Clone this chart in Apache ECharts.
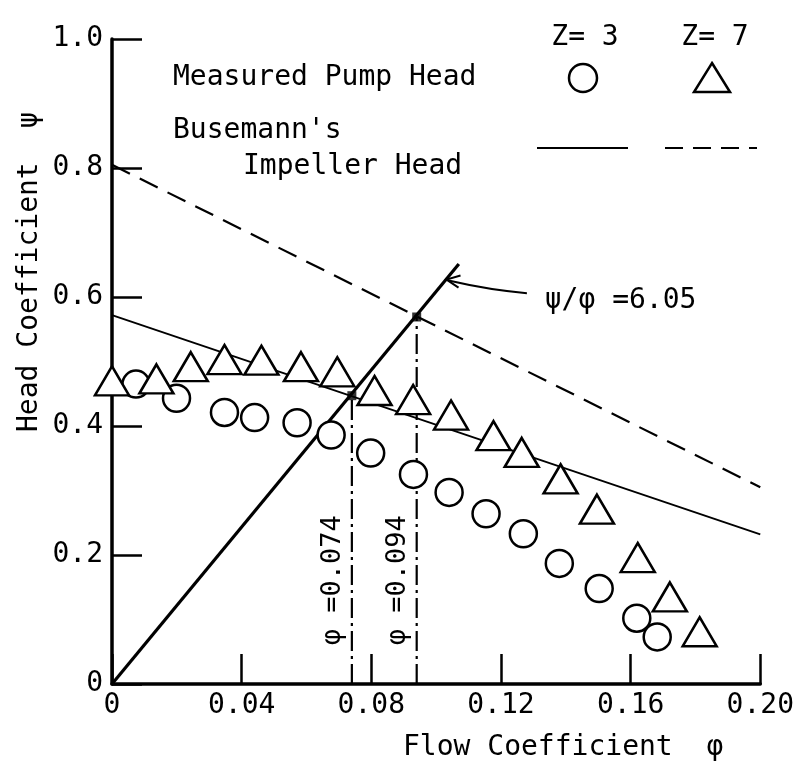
<!DOCTYPE html>
<html><head><meta charset="utf-8">
<script src="https://cdn.jsdelivr.net/npm/echarts@6/dist/echarts.min.js"></script>
<style>html,body{margin:0;padding:0;background:#fff}#c{width:797px;height:776px}</style>
</head><body><div id="c"></div>
<script>
const FONT = '"DejaVu Sans Mono", "Liberation Mono", monospace';

// Measured pump head, Z = 3 (circles)
const z3Flow = [0.0074, 0.0199, 0.0347, 0.0440, 0.0571, 0.0676, 0.0798, 0.0930, 0.1040, 0.1154, 0.1269, 0.1380, 0.1503, 0.1619, 0.1682];
const z3Head = [0.465, 0.443, 0.421, 0.413, 0.405, 0.386, 0.358, 0.325, 0.297, 0.264, 0.233, 0.187, 0.148, 0.102, 0.073];
// Measured pump head, Z = 7 (triangles)
const z7Flow = [0.0000, 0.0137, 0.0243, 0.0347, 0.0461, 0.0583, 0.0695, 0.0810, 0.0929, 0.1046, 0.1177, 0.1264, 0.1384, 0.1496, 0.1622, 0.1721, 0.1813];
const z7Head = [0.470, 0.473, 0.492, 0.503, 0.502, 0.492, 0.484, 0.455, 0.441, 0.417, 0.385, 0.359, 0.318, 0.271, 0.196, 0.135, 0.081];
// Busemann's impeller head
const buseZ3Flow = [0, 0.2];
const buseZ3Head = [0.572, 0.232];
const buseZ7Flow = [0, 0.2];
const buseZ7Head = [0.805, 0.305];
// psi/phi = 6.05 line
const ratioFlow = [0, 0.107];
const ratioHead = [0, 0.651];
// operating points
const opFlow = [0.074, 0.094];
const opHead = [0.447, 0.569];
const opLabels = ['\u03c6 =0.074', '\u03c6 =0.094'];

const zip = (a, b) => a.map((v, i) => [v, b[i]]);

const option = {
  animation: false,
  backgroundColor: '#fff',
  grid: { left: 112, right: 27, top: 39, bottom: 92 },
  xAxis: {
    type: 'value', min: 0, max: 0.2, interval: 0.04,
    axisLine: { lineStyle: { color: '#000', width: 3.5 } },
    axisTick: { inside: true, length: 30, lineStyle: { color: '#000', width: 2.5 } },
    axisLabel: { color: '#000', fontFamily: FONT, fontSize: 28, margin: 8,
      formatter: v => v === 0 ? '0' : v.toFixed(2) },
    splitLine: { show: false }
  },
  yAxis: {
    type: 'value', min: 0, max: 1, interval: 0.2,
    axisLine: { lineStyle: { color: '#000', width: 3.5 } },
    axisTick: { inside: true, length: 30, lineStyle: { color: '#000', width: 2.5 } },
    axisLabel: { color: '#000', fontFamily: FONT, fontSize: 28, margin: 9,
      formatter: v => v === 0 ? '0' : v.toFixed(1) },
    splitLine: { show: false }
  },
  series: [
    { type: 'line', data: zip(buseZ3Flow, buseZ3Head), symbol: 'none', z: 2,
      lineStyle: { color: '#000', width: 1.8 } },
    { type: 'line', data: zip(buseZ7Flow, buseZ7Head), symbol: 'none', z: 2,
      lineStyle: { color: '#000', width: 2.2, type: [20, 11] } },
    { type: 'line', data: zip(ratioFlow, ratioHead), symbol: 'none', z: 2,
      lineStyle: { color: '#000', width: 3.2 } },
    { type: 'line', data: [[opFlow[0], 0], [opFlow[0], opHead[0]]], symbol: 'none', z: 2,
      lineStyle: { color: '#000', width: 2.2, type: [20, 5, 3, 5] } },
    { type: 'line', data: [[opFlow[1], 0], [opFlow[1], opHead[1]]], symbol: 'none', z: 2,
      lineStyle: { color: '#000', width: 2.2, type: [20, 5, 3, 5] } },
    { type: 'scatter', data: zip(z3Flow, z3Head), symbol: 'circle', symbolSize: 27, z: 3,
      itemStyle: { color: '#fff', borderColor: '#000', borderWidth: 2.5, opacity: 1 } },
    { type: 'scatter', data: zip(z7Flow, z7Head), symbol: 'triangle', symbolSize: [34, 29], z: 4,
      itemStyle: { color: '#fff', borderColor: '#000', borderWidth: 2.5, opacity: 1 } },
    { type: 'scatter', data: zip(opFlow, opHead), symbol: 'rect', symbolSize: 9, z: 5,
      itemStyle: { color: '#000' } }
  ]
};

const chart = echarts.init(document.getElementById('c'));
chart.setOption(option);
const P = (x, y) => chart.convertToPixel({ gridIndex: 0 }, [x, y]);

const txt = (text, x, y, opts) => Object.assign({
  type: 'text', x: x, y: y, z: 10,
  style: Object.assign({ text: text, fill: '#000', font: '28px ' + FONT, textAlign: 'left', textVerticalAlign: 'middle' }, (opts && opts.style) || {})
}, opts && opts.rotation !== undefined ? { rotation: opts.rotation } : {});

const g = [];
// Legend block
g.push(txt('Z= 3', 585, 38, { style: { textAlign: 'center' } }));
g.push(txt('Z= 7', 715, 38, { style: { textAlign: 'center' } }));
g.push(txt('Measured Pump Head', 173, 78));
g.push({ type: 'circle', shape: { cx: 583, cy: 78, r: 14 }, style: { fill: '#fff', stroke: '#000', lineWidth: 2.5 }, z: 10 });
g.push({ type: 'polygon', shape: { points: [[712, 63], [730, 92], [694, 92]] }, style: { fill: '#fff', stroke: '#000', lineWidth: 2.5 }, z: 10 });
g.push(txt("Busemann's", 173, 131));
g.push(txt('Impeller Head', 243, 167));
g.push({ type: 'line', shape: { x1: 537, y1: 148, x2: 628, y2: 148 }, style: { stroke: '#000', lineWidth: 1.8 }, z: 10 });
g.push({ type: 'line', shape: { x1: 665, y1: 148, x2: 757, y2: 148 }, style: { stroke: '#000', lineWidth: 2.2, lineDash: [18, 10] }, z: 10 });

// Axis titles
g.push(txt('Flow Coefficient  \u03c6', 403, 748));
g.push(txt('Head Coefficient  \u03c8', 30, 432, { rotation: Math.PI / 2 }));

// psi/phi annotation
const tip = P(0.1032, 0.627);
const tail = P(0.128, 0.606);
g.push({ type: 'bezierCurve', shape: { x1: tail[0], y1: tail[1], x2: tip[0] + 2, y2: tip[1] + 1,
  cpx1: (tail[0] + tip[0]) / 2 + 4, cpy1: (tail[1] + tip[1]) / 2 + 4 },
  style: { stroke: '#000', lineWidth: 2, fill: null }, z: 10 });
g.push({ type: 'polyline', shape: { points: [[tip[0] + 14, tip[1] - 4], [tip[0], tip[1]], [tip[0] + 12, tip[1] + 8]] },
  style: { stroke: '#000', lineWidth: 2, fill: null }, z: 10 });
const lab = P(0.1335, 0.594);
g.push(txt('\u03c8/\u03c6 =6.05', lab[0], lab[1]));

// operating point labels (rotated)
opFlow.forEach((f, i) => {
  const p = P(f, 0.161);
  g.push(txt(opLabels[i], p[0] - 19, p[1], { rotation: Math.PI / 2, style: { textAlign: 'center', font: '27px ' + FONT } }));
});

chart.setOption({ graphic: g });
</script>
</body></html>
